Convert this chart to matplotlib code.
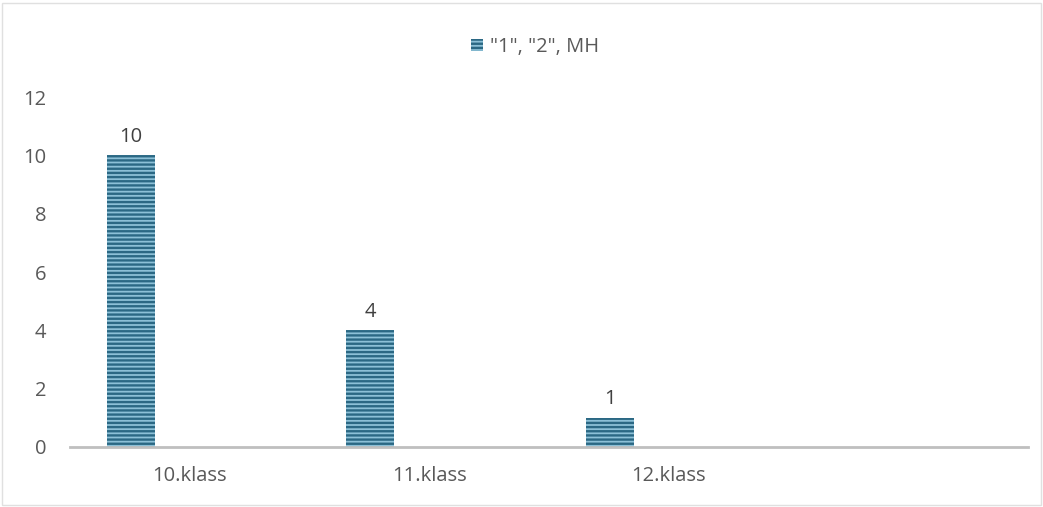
import matplotlib
matplotlib.use("Agg")
import matplotlib.pyplot as plt
from matplotlib.patches import Rectangle, Patch
import numpy as np

categories = ["10.klass", "11.klass", "12.klass", ""]
values = [10, 4, 1, None]
series_name = '"1", "2", MH'
yticks = [0, 2, 4, 6, 8, 10, 12]

plt.rcParams['font.family'] = ['Open Sans', 'DejaVu Sans']
plt.rcParams['hatch.linewidth'] = 1.7
plt.rcParams['hatch.color'] = '#2b6884'

fig = plt.figure(figsize=(10.43, 5.07), dpi=100)
ax = fig.add_axes([70/1043, 60/507, (1028-70)/1043, (447-97)/507])

x = np.arange(len(categories))
offset = -59/240
width = 48/240
vals = [v if v is not None else 0 for v in values]
bars = ax.bar(x[:3] + offset, vals[:3], width=width, color='#8cc0d7',
              edgecolor='#2b6884', hatch='----', linewidth=0)
for b, v in zip(bars, vals[:3]):
    ax.text(b.get_x() + b.get_width()/2, v + 0.3, str(v), ha='center', va='bottom',
            fontsize=14.5, color='#404040')

ax.set_xlim(-0.5, len(categories) - 0.5)
ax.set_ylim(0, 12)
ax.set_yticks(yticks)
ax.set_xticks(x)
ax.set_xticklabels(categories)
ax.tick_params(axis='both', length=0, labelsize=14.5, colors='#595959')
ax.tick_params(axis='y', pad=17)
ax.tick_params(axis='x', pad=14)
for s in ['top', 'right', 'left']:
    ax.spines[s].set_visible(False)
ax.spines['bottom'].set_color('#bfbfbf')
ax.spines['bottom'].set_linewidth(2)

handle = Patch(facecolor='#8cc0d7', edgecolor='#2b6884', hatch='----', linewidth=0)
fig.legend([handle], [series_name], loc='center', bbox_to_anchor=(535/1043, 1 - 47/507),
           frameon=False, fontsize=14.5, labelcolor='#595959', handlelength=0.6,
           handleheight=0.6, handletextpad=0.3)

fig.patches.append(Rectangle((0.002, 0.004), 0.996, 0.99, transform=fig.transFigure,
                             fill=False, edgecolor='#e0e0e0', linewidth=1))

fig.savefig('out.png', dpi=100)
